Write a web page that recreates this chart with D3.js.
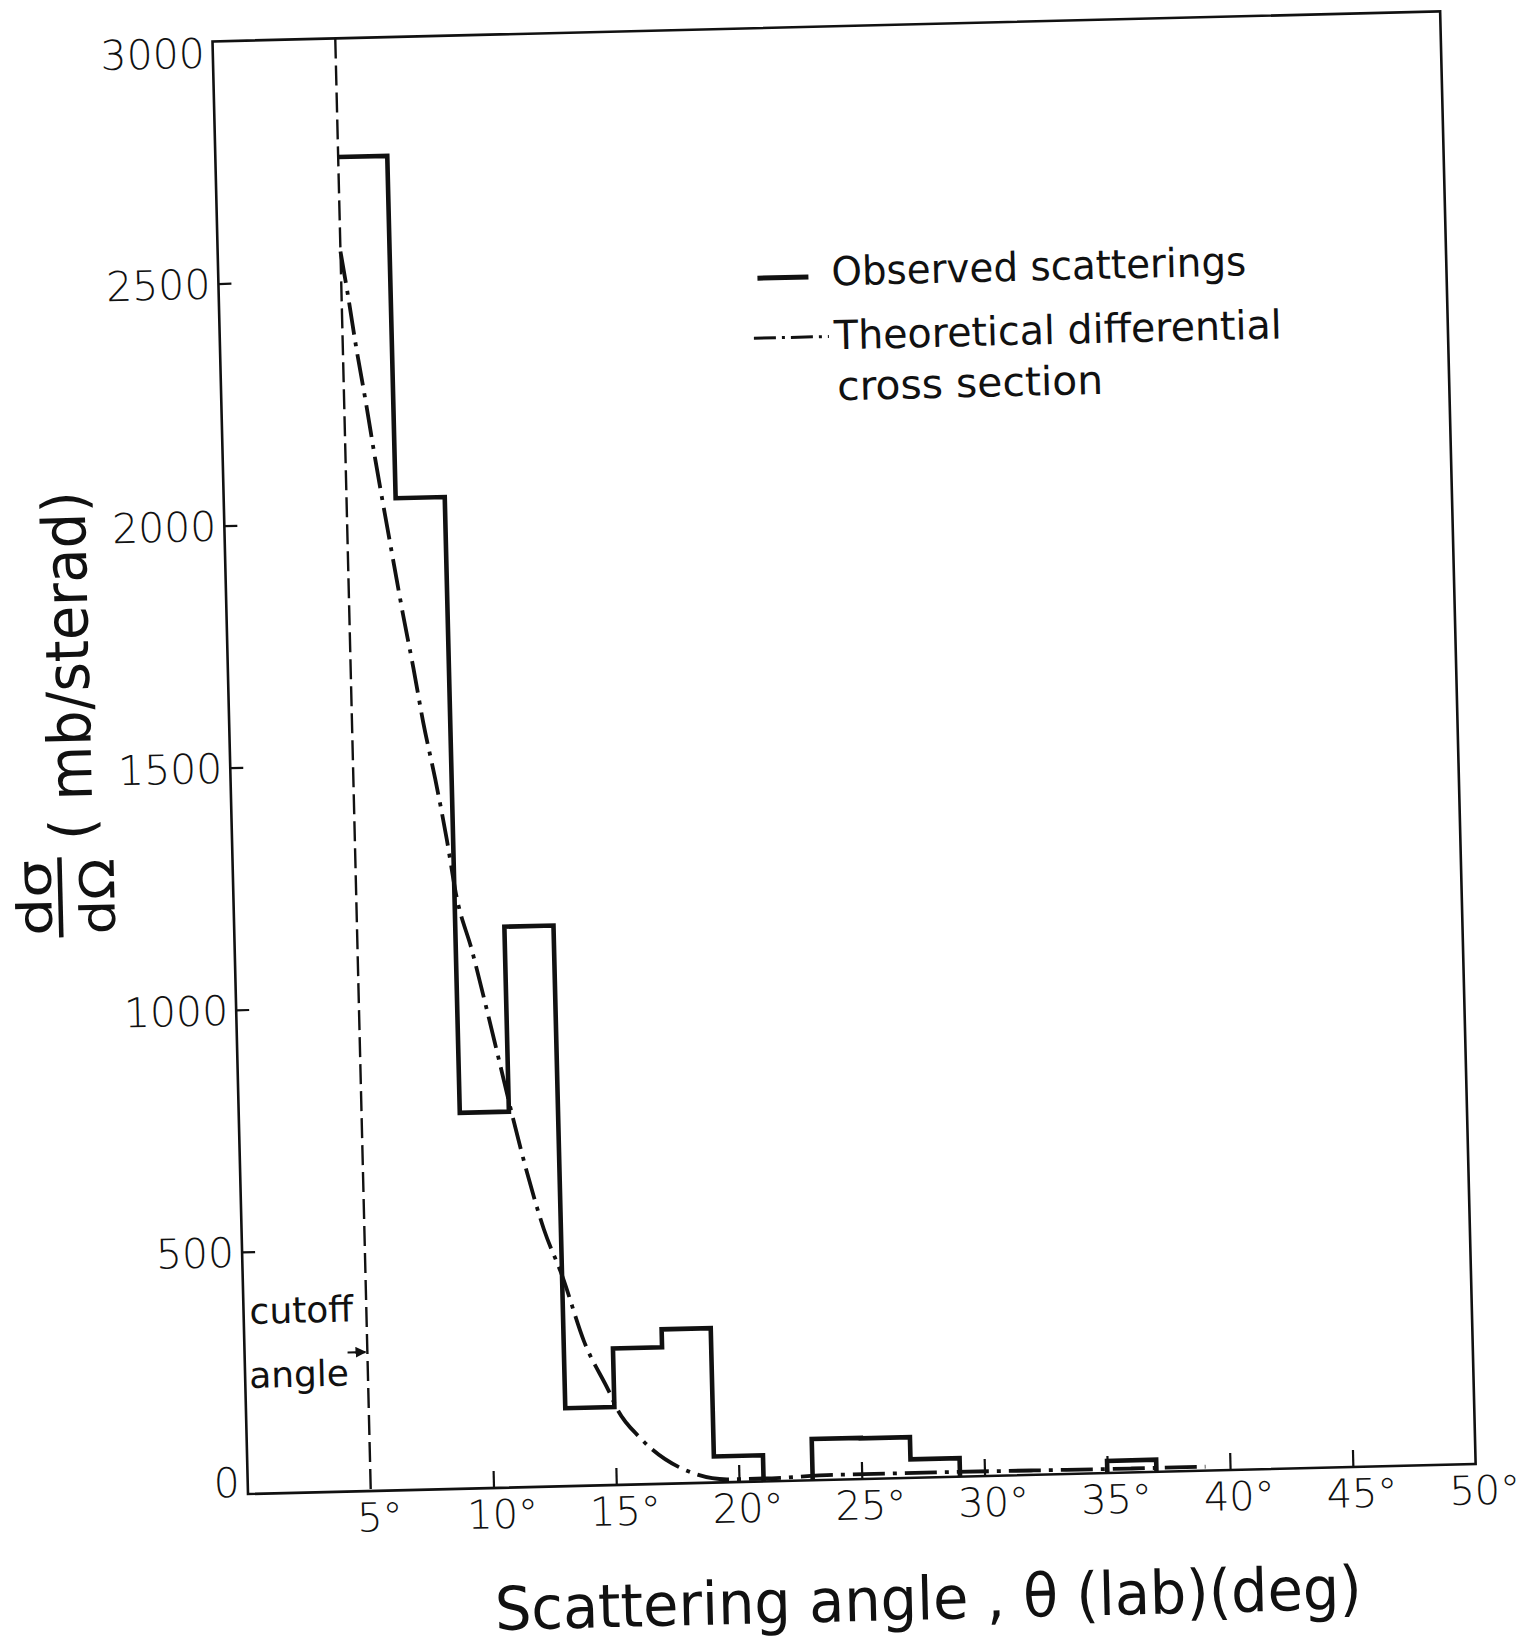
<!DOCTYPE html>
<html>
<head>
<meta charset="utf-8">
<script src="https://cdn.jsdelivr.net/npm/d3@7"></script>
<style>
  html, body { margin: 0; padding: 0; background: #fff; }
  svg { display: block; }
  text { font-family: "DejaVu Sans", "Noto Sans", sans-serif; fill: #111; }
</style>
</head>
<body>
<svg id="chart" width="1528" height="1646"></svg>
<script>
// Angular bins (lab frame, degrees) and the observed dσ/dΩ in each bin (mb/sterad)
const binLow   = [5, 7, 9, 11, 13, 15, 17, 19, 21, 23, 25, 27, 29, 31, 33, 35];
const binHigh  = [7, 9, 11, 13, 15, 17, 19, 21, 23, 25, 27, 29, 31, 33, 35, 37];
const observed = [2755, 2048, 776, 1158, 161, 282, 319, 54, 0, 85, 84, 38, 0, 0, 0, 25];

// Theoretical differential cross section
const thetaTheory = [5.0, 5.25, 5.54, 5.89, 6.21, 6.54, 6.87, 7.19, 7.55, 7.90, 8.33, 8.74,
                     9.06, 9.66, 10.15, 10.64, 11.17, 11.68, 12.31, 13.01, 13.83, 14.8, 15.1,
                     16.04, 17.97, 19.6, 21, 24, 28, 32, 36, 39];
const sigmaTheory = [2560, 2473, 2363, 2245, 2129, 2018, 1910, 1806, 1698, 1584, 1467, 1342,
                     1229, 1110, 1000, 885, 760, 649, 531, 434, 298, 193, 158,
                     95, 24, 6, 6, 10, 10, 9, 8, 8];

const cutoffAngle = 5;

// Axis ticks
const xTicks = [5, 10, 15, 20, 25, 30, 35, 40, 45, 50];
const xTickLabels = ["5°", "10°", "15°", "20°", "25°", "30°", "35°", "40°", "45°", "50°"];
const yTicks = [0, 500, 1000, 1500, 2000, 2500, 3000];
const yTickLabels = ["0", "500", "1000", "1500", "2000", "2500", "3000"];

// ---- layout ----
const W = 1228, H = 1453;
const originX = 248, originY = 1494;   // bottom-left corner of the plot frame
const tilt = -1.4;                      // the whole sheet sits slightly askew

const svg = d3.select("#chart");
svg.append("rect").attr("width", 1528).attr("height", 1646).attr("fill", "#fff");

const g = svg.append("g")
  .attr("transform", `translate(${originX},${originY}) rotate(${tilt}) translate(0,${-H})`);

const x = d3.scaleLinear().domain([0, 50]).range([0, W]);
const y = d3.scaleLinear().domain([0, 3000]).range([H, 0]);

// frame
g.append("rect")
  .attr("x", 0).attr("y", 0).attr("width", W).attr("height", H)
  .attr("fill", "none").attr("stroke", "#111").attr("stroke-width", 2.6);

// y axis (ticks point inward)
const yAxis = g.append("g")
  .call(d3.axisLeft(y).tickValues(yTicks).tickSize(-13).tickPadding(8)
        .tickFormat((d, i) => yTickLabels[i]));
yAxis.select(".domain").remove();
yAxis.selectAll(".tick line").attr("stroke", "#111").attr("stroke-width", 2.2)
  .filter(d => d === 0 || d === 3000).remove();
yAxis.selectAll(".tick text")
  .attr("font-size", 41).attr("font-weight", 300)
  .attr("font-family", "\"DejaVu Sans\", sans-serif").attr("fill", "#111")
  .attr("dy", d => d === 3000 ? "0.62em" : d === 0 ? "0.05em" : "0.35em");

// x axis (ticks point inward)
const xAxis = g.append("g")
  .attr("transform", `translate(0,${H})`)
  .call(d3.axisBottom(x).tickValues(xTicks).tickSize(-17).tickPadding(12)
        .tickFormat((d, i) => xTickLabels[i]));
xAxis.select(".domain").remove();
xAxis.selectAll(".tick line").attr("stroke", "#111").attr("stroke-width", 2.2)
  .filter(d => d === 50 || d === cutoffAngle).remove();
xAxis.selectAll(".tick text")
  .attr("font-size", 40).attr("font-weight", 300)
  .attr("font-family", "\"DejaVu Sans\", sans-serif").attr("fill", "#111")
  .attr("dx", 8);

// cutoff angle
g.append("line")
  .attr("x1", x(cutoffAngle)).attr("x2", x(cutoffAngle))
  .attr("y1", 0).attr("y2", y(0))
  .attr("stroke", "#111").attr("stroke-width", 2.4).attr("stroke-dasharray", "20 7");

// observed histogram, drawn as runs of non-empty bins
const bins = binLow.map((lo, i) => ({ lo, hi: binHigh[i], v: observed[i] }));
const runs = [];
let cur = null;
bins.forEach(b => {
  if (b.v > 0) { if (!cur) { cur = []; runs.push(cur); } cur.push(b); }
  else cur = null;
});
const stepLine = d3.line().x(d => x(d[0])).y(d => y(d[1]));
runs.forEach(run => {
  const pts = [];
  if (run[0].lo !== cutoffAngle) pts.push([run[0].lo, 0]);
  run.forEach(b => { pts.push([b.lo, b.v]); pts.push([b.hi, b.v]); });
  pts.push([run[run.length - 1].hi, 0]);
  g.append("path").attr("d", stepLine(pts))
    .attr("fill", "none").attr("stroke", "#111").attr("stroke-width", 4.6)
    .attr("stroke-linejoin", "miter");
});

// theoretical curve (dash-dot)
const theory = thetaTheory.map((t, i) => [t, sigmaTheory[i]]);
g.append("path")
  .attr("d", d3.line().curve(d3.curveMonotoneX).x(d => x(d[0])).y(d => y(d[1]))(theory))
  .attr("fill", "none").attr("stroke", "#111").attr("stroke-width", 3.8)
  .attr("stroke-dasharray", "32 8 4 8");

// legend
const legend = g.append("g");
legend.append("line").attr("x1", 539).attr("x2", 590).attr("y1", 250).attr("y2", 250)
  .attr("stroke", "#111").attr("stroke-width", 5);
legend.append("text").attr("x", 613).attr("y", 259)
  .attr("font-size", 40).attr("textLength", 415).attr("lengthAdjust", "spacingAndGlyphs")
  .text("Observed scatterings");
legend.append("line").attr("x1", 534).attr("x2", 609).attr("y1", 310).attr("y2", 310)
  .attr("stroke", "#111").attr("stroke-width", 3).attr("stroke-dasharray", "22 6 3 6");
legend.append("text").attr("x", 614).attr("y", 323)
  .attr("font-size", 40).attr("textLength", 448).attr("lengthAdjust", "spacingAndGlyphs")
  .text("Theoretical differential");
legend.append("text").attr("x", 616).attr("y", 374)
  .attr("font-size", 40).attr("textLength", 266).attr("lengthAdjust", "spacingAndGlyphs")
  .text("cross section");

// cutoff annotation
g.append("text").attr("x", 6).attr("y", 1283).attr("font-size", 36).text("cutoff");
g.append("text").attr("x", 4).attr("y", 1347).attr("font-size", 36).text("angle");
svg.append("defs").append("marker")
  .attr("id", "arrowHead").attr("viewBox", "0 0 10 10").attr("refX", 9).attr("refY", 5)
  .attr("markerWidth", 5).attr("markerHeight", 5).attr("orient", "auto")
  .append("path").attr("d", "M0,0 L10,5 L0,10 Z").attr("fill", "#111");
g.append("line").attr("x1", 103).attr("x2", x(cutoffAngle) - 2)
  .attr("y1", 1314).attr("y2", 1314)
  .attr("stroke", "#111").attr("stroke-width", 2.2).attr("marker-end", "url(#arrowHead)");

// y-axis title: dσ/dΩ (mb/sterad)
const frac = g.append("g").attr("transform", "translate(-173,852) rotate(-90)");
frac.append("line").attr("x1", -40).attr("x2", 40).attr("y1", 0).attr("y2", 0)
  .attr("stroke", "#111").attr("stroke-width", 4.5);
frac.append("text").attr("x", 0).attr("y", -9).attr("text-anchor", "middle")
  .attr("font-size", 48).attr("textLength", 76).attr("lengthAdjust", "spacingAndGlyphs")
  .text("dσ");
frac.append("text").attr("x", 0).attr("y", 54).attr("text-anchor", "middle")
  .attr("font-size", 48).attr("textLength", 76).attr("lengthAdjust", "spacingAndGlyphs")
  .text("dΩ");
g.append("text")
  .attr("transform", "translate(-139,795) rotate(-90)")
  .attr("font-size", 60).attr("textLength", 349).attr("lengthAdjust", "spacingAndGlyphs")
  .text("( mb/sterad)");

// x-axis title
g.append("text").attr("x", 244).attr("y", H + 142)
  .attr("font-size", 60).attr("textLength", 867).attr("lengthAdjust", "spacingAndGlyphs")
  .text("Scattering  angle , θ (lab)(deg)");
</script>
</body>
</html>
